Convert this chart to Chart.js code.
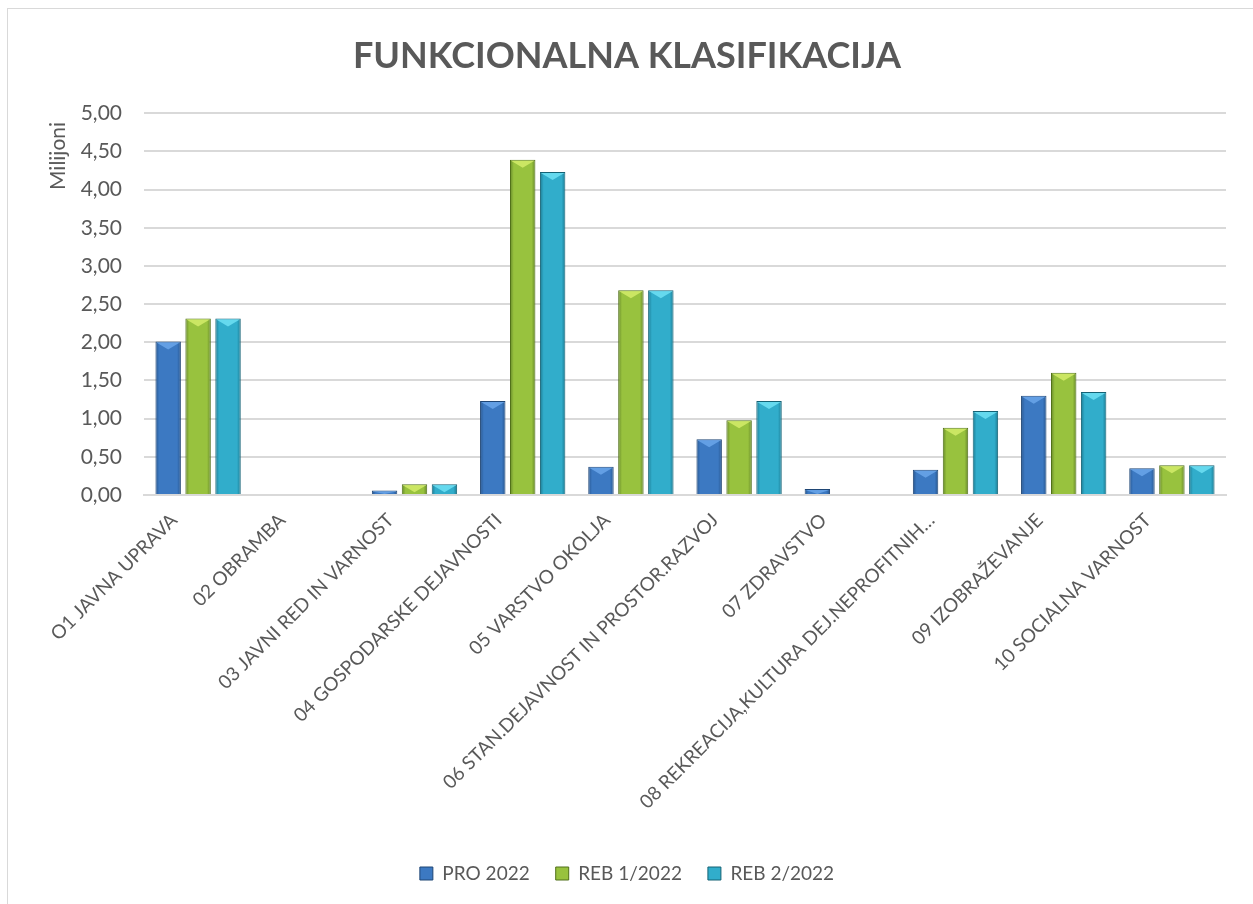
<!DOCTYPE html>
<html>
<head>
<meta charset="utf-8">
<script src="https://cdn.jsdelivr.net/npm/chart.js@4.4.1/dist/chart.umd.min.js"></script>
<style>
  html, body { margin: 0; padding: 0; background: #ffffff; overflow: hidden; }
  #wrap { position: absolute; left: 7px; top: 8px; width: 1260px; height: 910px;
          border-left: 1px solid #d9d9d9; border-top: 1px solid #d9d9d9; background:#fff; }
  canvas { display: block; }
</style>
</head>
<body>
<div id="wrap"><canvas id="c" width="1246" height="896"></canvas></div>
<script>
const categories = [
  "O1 JAVNA UPRAVA",
  "02 OBRAMBA",
  "03 JAVNI RED IN VARNOST",
  "04 GOSPODARSKE DEJAVNOSTI",
  "05 VARSTVO OKOLJA",
  "06 STAN.DEJAVNOST IN PROSTOR.RAZVOJ",
  "07 ZDRAVSTVO",
  "08 REKREACIJA,KULTURA DEJ.NEPROFITNIH…",
  "09 IZOBRAŽEVANJE",
  "10 SOCIALNA VARNOST"
];
const seriesNames = ["PRO 2022", "REB 1/2022", "REB 2/2022"];
const pro2022  = [2.01, 0, 0.06, 1.23, 0.37, 0.73, 0.08, 0.33, 1.30, 0.35];
const reb12022 = [2.31, 0, 0.14, 4.39, 2.68, 0.98, 0,    0.88, 1.60, 0.39];
const reb22022 = [2.31, 0, 0.14, 4.23, 2.68, 1.23, 0,    1.10, 1.35, 0.39];
const yTicks = [0, 0.5, 1, 1.5, 2, 2.5, 3, 3.5, 4, 4.5, 5];

const FONT = "Lato, 'Open Sans', sans-serif";
const TXT = "#595959";

const palettes = [
  { edge: "#27568f", mid: "#3c79c2", top: "#6aa6ea", border: "#1f4675" },
  { edge: "#67892a", mid: "#98c23e", top: "#d4ec6a", border: "#51701a" },
  { edge: "#1c7b93", mid: "#31adcb", top: "#6fe0f5", border: "#146275" }
];

const CAT_PCT = 0.83, BAR_PCT = 0.85;

function barGradient(ctx, dsIndex) {
  const chart = ctx.chart;
  const xs = chart.scales.x;
  if (!xs || ctx.dataIndex === undefined) return palettes[dsIndex].mid;
  const n = categories.length;
  const catW = xs.width / n;
  const slot = catW * CAT_PCT / 3;
  const cx = xs.getPixelForValue(ctx.dataIndex) + (dsIndex - 1) * slot;
  const w = slot * BAR_PCT;
  const g = chart.ctx.createLinearGradient(cx - w / 2, 0, cx + w / 2, 0);
  const p = palettes[dsIndex];
  g.addColorStop(0, p.edge);
  g.addColorStop(0.15, p.mid);
  g.addColorStop(0.5, p.mid);
  g.addColorStop(0.85, p.mid);
  g.addColorStop(1, p.edge);
  return g;
}

const bevelPlugin = {
  id: 'bevel',
  afterDatasetsDraw(chart) {
    const ctx = chart.ctx;
    chart.data.datasets.forEach((ds, i) => {
      const meta = chart.getDatasetMeta(i);
      meta.data.forEach((el) => {
        const h = el.base - el.y;
        if (h < 1) return;
        const w = el.width;
        const d = Math.min(8, h);
        ctx.save();
        ctx.fillStyle = palettes[i].top;
        ctx.globalAlpha = 0.85;
        ctx.beginPath();
        ctx.moveTo(el.x - w / 2 + 1, el.y + 1);
        ctx.lineTo(el.x + w / 2 - 1, el.y + 1);
        ctx.lineTo(el.x, el.y + d);
        ctx.closePath();
        ctx.fill();
        ctx.restore();
      });
    });
  }
};

const axisLabelPlugin = {
  id: 'axisLabel',
  afterDraw(chart) {
    const ctx = chart.ctx;
    const ys = chart.scales.y;
    ctx.save();
    ctx.fillStyle = TXT;
    ctx.font = "normal 400 21px Lato, 'Open Sans', sans-serif";
    ctx.textAlign = "center";
    ctx.textBaseline = "middle";
    ctx.translate(50, ys.getPixelForValue(4.44));
    ctx.rotate(-Math.PI / 2);
    ctx.fillText("Milijoni", 0, 0);
    ctx.restore();
  }
};

const values = [pro2022, reb12022, reb22022];

new Chart(document.getElementById('c'), {
  type: 'bar',
  data: {
    labels: categories,
    datasets: seriesNames.map((name, i) => ({
      label: name,
      data: values[i],
      backgroundColor: (ctx) => barGradient(ctx, i),
      borderColor: palettes[i].border,
      borderWidth: 1,
      categoryPercentage: CAT_PCT,
      barPercentage: BAR_PCT
    }))
  },
  options: {
    responsive: false,
    animation: false,
    devicePixelRatio: 1,
    layout: { padding: { left: 20, right: 28, top: 26, bottom: 12 } },
    plugins: {
      title: {
        display: true,
        text: "FUNKCIONALNA KLASIFIKACIJA",
        color: TXT,
        font: { family: FONT, size: 36, weight: 'bold' },
        padding: { top: 0, bottom: 35 }
      },
      legend: {
        position: 'bottom',
        labels: {
          color: TXT,
          font: { family: FONT, size: 19 },
          boxWidth: 13,
          boxHeight: 13,
          padding: 26,
          generateLabels(chart) {
            return chart.data.datasets.map((ds, i) => ({
              text: ds.label,
              fillStyle: palettes[i].mid,
              strokeStyle: palettes[i].border,
              lineWidth: 1,
              datasetIndex: i,
              fontColor: TXT
            }));
          }
        }
      },
      tooltip: { enabled: false }
    },
    scales: {
      x: {
        grid: { display: false, drawTicks: false },
        border: { display: true, color: "#d9d9d9", width: 2 },
        afterFit(scale) { scale.height = 343; },
        ticks: {
          color: TXT,
          font: { family: FONT, size: 19 },
          maxRotation: 45,
          minRotation: 45,
          autoSkip: false,
          padding: 14,
          labelOffset: -24
        }
      },
      y: {
        min: 0,
        max: 5,
        afterBuildTicks(scale) { scale.ticks = yTicks.map(v => ({ value: v })); },
        afterFit(scale) { scale.width = 116; },
        grid: { color: "#d9d9d9", lineWidth: 2, drawTicks: false },
        border: { display: false },
        ticks: {
          color: TXT,
          font: { family: FONT, size: 21 },
          padding: 22,
          callback: (v) => Number(v).toFixed(2).replace('.', ',')
        }
      }
    }
  },
  plugins: [bevelPlugin, axisLabelPlugin]
});
</script>
</body>
</html>
